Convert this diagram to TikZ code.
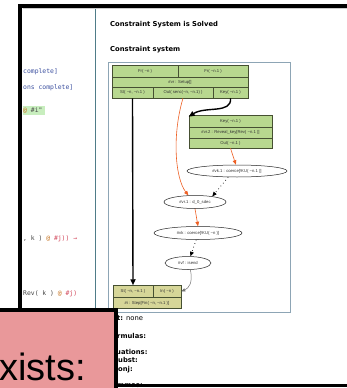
\documentclass[tikz,border=0pt]{standalone}
\usepackage{fontspec}
\setmainfont{Liberation Sans}
\newfontfamily\monof{DejaVu Sans Mono}
\newfontfamily\verd{DejaVu Sans}
\usetikzlibrary{arrows.meta,shapes.geometric}
\definecolor{cellgreen}{RGB}{184,216,143}
\definecolor{cellkhaki}{RGB}{214,214,152}
\definecolor{cellborder}{RGB}{70,80,50}
\definecolor{pinkc}{RGB}{233,152,154}
\definecolor{framec}{RGB}{141,165,181}
\definecolor{tealc}{RGB}{79,124,136}
\definecolor{codeblue}{RGB}{60,80,160}
\definecolor{codered}{RGB}{210,70,90}
\definecolor{codeorange}{RGB}{200,120,40}
\definecolor{codegray}{RGB}{70,70,70}
\definecolor{hlgreen}{RGB}{200,238,190}
\definecolor{edgeorange}{RGB}{238,95,35}
\tikzset{
  cell/.style={draw=cellborder, fill=cellgreen, line width=0.5pt, inner sep=0pt,
    font=\fontsize{4.2}{5}\selectfont, text=black!80},
  kcell/.style={cell, fill=cellkhaki},
  ell/.style={draw=black!85, fill=white, ellipse, line width=0.5pt, inner sep=0pt,
    font=\fontsize{4.2}{5}\selectfont, text=black!80},
  thickedge/.style={black, line width=1.4pt, -{Triangle[length=6pt,width=5pt]}},
  oredge/.style={edgeorange, line width=0.6pt, -{Triangle[length=4.5pt,width=3.6pt]}},
  dotedge/.style={black, line width=0.7pt, dash pattern=on 0.7pt off 3pt, -{Triangle[length=4.5pt,width=3.8pt]}},
  grayedge/.style={black!55, line width=0.5pt, -{Triangle[length=4pt,width=3.2pt]}},
  code/.style={anchor=base west, inner sep=0pt, font=\monof\fontsize{6.4}{7}\selectfont},
  head/.style={anchor=base west, inner sep=0pt, font=\verd\bfseries\fontsize{6.8}{8}\selectfont},
  info/.style={anchor=base west, inner sep=0pt, font=\verd\fontsize{6.8}{8}\selectfont},
  infob/.style={info, font=\verd\bfseries\fontsize{6.8}{8}\selectfont}
}
\begin{document}
\begin{tikzpicture}[x=1pt,y=-1pt]
\useasboundingbox (0,0) rectangle (347,388);
\fill[white] (0,0) rectangle (347,388);

% left code panel
\node[code, text=codeblue] (c1) at (23,73) {complete]};
\node[code, text=codeblue] (c2) at (23,89) {ons complete]};
\fill[hlgreen] (22.5,105.5) rectangle (45,115);
\node[code] (c3) at (23,112.5) {\textcolor{codeorange}{@} \textcolor{codegray}{\#i"}};
\node[code] (c4) at (23,240) {\textcolor{codegray}{, k )} \textcolor{codeorange}{@} \textcolor{codered}{\#j)) →}};
\node[code] (c5) at (23,295.5) {\textcolor{codegray}{Rev( k )} \textcolor{codeorange}{@} \textcolor{codered}{\#j)}};

% dividers
\draw[tealc, line width=1.3pt] (95.5,7) -- (95.5,312);
\draw[black, line width=4pt, line join=miter] (20.3,320) -- (20.3,5.5) -- (348,5.5);
\draw[black!20, line width=0.5pt] (22.5,8.5) -- (347,8.5);

% right panel headings
\node[head] (h1) at (110,26.5) {Constraint System is Solved};
\node[head] (h2) at (110,51.5) {Constraint system};

% graph frame
\draw[framec, line width=0.9pt] (108,62) rectangle (290,312);

% top table
\node[cell, minimum width=66pt, minimum height=12pt] (t1Fa) at (145,71) {Fr( \textasciitilde n )};
\node[cell, minimum width=70pt, minimum height=12pt] (t1Fb) at (213,71) {Fr( \textasciitilde n.1 )};
\node[cell, minimum width=136pt, minimum height=10pt] (t1R) at (180,82) {\#vr : Setup[]};
\node[cell, minimum width=41pt, minimum height=11pt] (t1St) at (132.5,92.5) {St( \textasciitilde n, \textasciitilde n.1 )};
\node[cell, minimum width=60pt, minimum height=11pt] (t1Out) at (183,92.5) {Out( senc(\textasciitilde n, \textasciitilde n.1) )};
\node[cell, minimum width=35pt, minimum height=11pt] (t1Key) at (230.5,92.5) {Key( \textasciitilde n.1 )};

% second table
\node[cell, minimum width=83pt, minimum height=12pt] (t2Key) at (230.5,121) {Key( \textasciitilde n.1 )};
\node[cell, minimum width=83pt, minimum height=11pt] (t2R) at (230.5,132.5) {\#vr.2 : Reveal\_key[Rev( \textasciitilde n.1 )]};
\node[cell, minimum width=83pt, minimum height=10pt] (t2Out) at (230.5,143) {Out( \textasciitilde n.1 )};

% ellipses
\node[ell, minimum width=100pt, minimum height=12pt] (e1) at (237,171) {\#vk.1 : coerce[!KU( \textasciitilde n.1 )]};
\node[ell, minimum width=62pt, minimum height=13pt] (e2) at (195,202) {\#vr.1 : d\_0\_sdec};
\node[ell, minimum width=88pt, minimum height=13pt] (e3) at (198,233) {\#vk : coerce[!KU( \textasciitilde n )]};
\node[ell, minimum width=46pt, minimum height=13pt] (e4) at (188,263) {\#vf : isend};

% bottom table
\node[kcell, minimum width=40pt, minimum height=12pt] (b1St) at (133,291.5) {St( \textasciitilde n, \textasciitilde n.1 )};
\node[kcell, minimum width=28pt, minimum height=12pt] (b1In) at (167,291.5) {In( \textasciitilde n )};
\node[kcell, minimum width=68pt, minimum height=11pt] (b1R) at (147,303) {\#i : Step[Fin( \textasciitilde n, \textasciitilde n.1 )]};

% edges
\draw[thickedge] (t1St.south) -- (b1St.north);
\draw[oredge] (t1Out.south) .. controls (172,135) and (175,178) .. (e2.135);
\draw[thickedge] (t1Key.south) .. controls (232,114) and (205,106) .. ([yshift=-2pt]t2Key.north west);
\draw[oredge] (t2Out.south) -- (e1.100);
\draw[dotedge] (e1.215) -- (e2.18);
\draw[oredge] (e2.south) -- (e3.north);
\draw[dotedge] (e3.255) -- (e4.70);
\draw[grayedge] (e4.290) .. controls (193,283) and (189,288) .. (b1In.east);

% info lines
\node[info] (i1) at (117,320.5) {\textbf{t:} none};
\node[infob] (i2) at (117,338) {rmulas:};
\node[infob] (i3) at (116,354.5) {uations:};
\node[infob] (i4) at (118,362.5) {ubst:};
\node[infob] (i5) at (118,371) {onj:};
\node[infob] (i6) at (117,387) {mmas:};
\draw[black, line width=3pt] (114,385) -- (348,385);

% pink overlay box
\fill[pinkc] (-1,310) rectangle (116,389);
\draw[black, line width=3.5pt, line join=miter] (-2,310) -- (116,310) -- (116,390);
\node[anchor=base west, inner sep=0pt, font=\fontsize{38}{42}\selectfont] (px) at (-1,380) {xists:};
\end{tikzpicture}
\end{document}
